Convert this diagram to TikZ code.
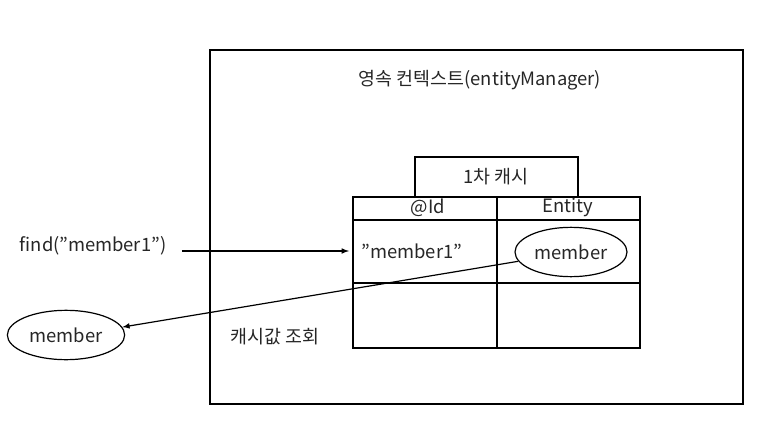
\documentclass[tikz,border=0pt]{standalone}
\usepackage{fontspec}
\setmainfont{Noto Sans CJK KR}
\usetikzlibrary{arrows}
\usetikzlibrary{shapes.geometric, math}

\tikzset{
  lbl/.style={font=\fontsize{13.8}{16}\selectfont, text=black!85, inner sep=1pt},
  obj/.style={lbl, draw=black, ellipse, line width=0.9pt, inner sep=0pt},
}

\begin{document}
\begin{tikzpicture}[x=0.75pt,y=-0.75pt]
\tikzmath{
\tl=353;
\tm=497;
\tr=640;
\ttop=197;
\thd=220;
\trow=283;
\tbot=348;
}
\useasboundingbox (0,0) rectangle (762,438);
%context
\draw[line width=1.3pt] (210,50) rectangle (743,404);
\node[lbl] (title) at (480,80) {영속 컨텍스트(entityManager)};

%cache label
\draw[line width=0.9pt] (415,157) rectangle (578,\ttop);
\node[lbl] (cache) at (496,177) {1차 캐시};

%table
\draw[line width=0.9pt] (\tl,\ttop) rectangle (\tr,\tbot);
\draw[line width=0.9pt] (\tm,\ttop) -- (\tm,\tbot);
\draw[line width=0.9pt] (\tl,\thd) -- (\tr,\thd);
\draw[line width=0.9pt] (\tl,\trow) -- (\tr,\trow);
\node[lbl] (idhead) at (428,208) {@Id};
\node[lbl] (enthead) at (568,208) {Entity};
\node[lbl] (key) at (412,251) {"member1"};
\node[obj, minimum width=84pt, minimum height=37pt] (val) at (571,252) {member};
\coordinate (tbl) at (\tl-4,251);

%outside
\node[lbl] (find) at (93,246) {find("member1")};
\node[obj, minimum width=88pt, minimum height=37pt] (res) at (66,335) {member};
\node[lbl] (lookup) at (275,337) {캐시값 조회};

\draw[-latex, line width=0.9pt] (find.east |- tbl) ++(14,0) -- (tbl);
\draw[-latex, line width=0.9pt] (val.190) -- (res.8);
\end{tikzpicture}
\end{document}
